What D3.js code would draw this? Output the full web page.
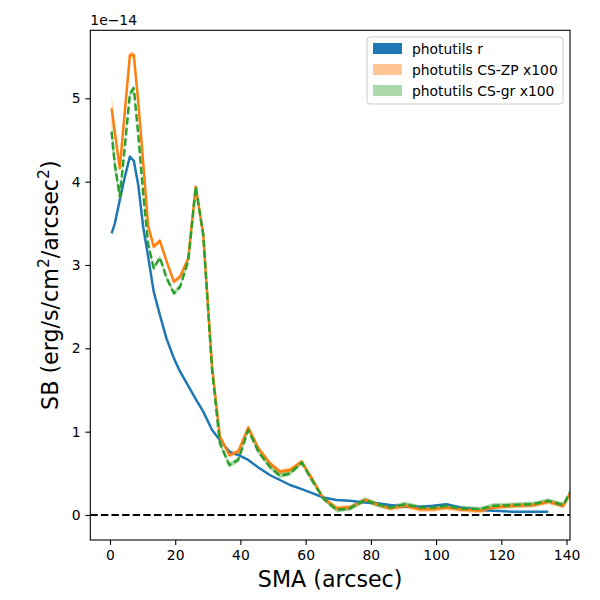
<!DOCTYPE html>
<html>
<head>
<meta charset="utf-8">
<script src="https://cdn.jsdelivr.net/npm/d3@7"></script>
<style>
  html, body { margin: 0; padding: 0; background: #fff; }
  svg { display: block; font-family: "DejaVu Sans", sans-serif; }
</style>
</head>
<body>
<div id="chart"></div>
<script>
// SMA grid (arcsec)
const sma = [0.5, 1.5, 3.0, 4.5, 6.1, 7.3, 8.7, 10.2, 11.7, 13.4, 15.3, 17.3, 19.6, 21.5, 24.0, 26.3, 28.6, 31.3, 33.7, 36.6,
             39.3, 42.4, 45.5, 49.0, 52.1, 55.2, 58.8, 62.2, 65.4, 69.5, 73.6, 78.2, 81.8, 85.9, 90.5, 95.0, 99.0, 103.2, 107.3, 113.5,
             117.5, 123.7, 129.8, 134.4, 139.0, 141.2];
// surface brightness, units of 1e-14
const sbR = [3.38, 3.50, 3.78, 4.05, 4.30, 4.25, 3.95, 3.45, 3.10, 2.68, 2.40, 2.12, 1.88, 1.72, 1.55, 1.39, 1.24, 1.02, 0.90, 0.76,
             0.72, 0.66, 0.57, 0.48, 0.42, 0.36, 0.31, 0.26, 0.21, 0.18, 0.17, 0.15, 0.14, 0.12, 0.10, 0.10, 0.11, 0.13, 0.09, 0.06,
             0.05, 0.04, 0.04, 0.04];
const sbZP = [4.88, 4.59, 4.16, 4.82, 5.52, 5.52, 4.94, 4.22, 3.47, 3.22, 3.29, 3.05, 2.80, 2.86, 3.08, 3.94, 3.36, 1.78, 0.94, 0.72,
              0.76, 1.05, 0.80, 0.62, 0.52, 0.54, 0.64, 0.42, 0.20, 0.08, 0.09, 0.18, 0.13, 0.08, 0.11, 0.07, 0.07, 0.09, 0.07, 0.05,
              0.09, 0.11, 0.12, 0.16, 0.11, 0.26];
const sbGR = [4.60, 4.20, 3.82, 4.40, 5.05, 5.12, 4.55, 3.85, 3.25, 2.96, 3.09, 2.85, 2.66, 2.74, 3.05, 3.94, 3.36, 1.74, 0.86, 0.60,
              0.66, 1.02, 0.76, 0.58, 0.47, 0.50, 0.63, 0.40, 0.20, 0.06, 0.08, 0.18, 0.13, 0.09, 0.13, 0.09, 0.09, 0.11, 0.08, 0.07,
              0.11, 0.12, 0.13, 0.17, 0.12, 0.28];
// uncertainty half-widths (1e-14)
const errZP = [0.16, 0.08, 0.05, 0.05, 0.04, 0.04, 0.04, 0.04, 0.03, 0.03, 0.03, 0.03, 0.03, 0.03, 0.03, 0.03, 0.03, 0.03, 0.03, 0.03,
               0.03, 0.03, 0.03, 0.03, 0.03, 0.03, 0.03, 0.03, 0.03, 0.03, 0.03, 0.03, 0.03, 0.03, 0.03, 0.03, 0.03, 0.03, 0.03, 0.03,
               0.03, 0.03, 0.03, 0.03, 0.03, 0.03];
const errGR = [0.18, 0.10, 0.06, 0.05, 0.04, 0.04, 0.04, 0.04, 0.03, 0.03, 0.03, 0.03, 0.03, 0.03, 0.03, 0.03, 0.03, 0.03, 0.03, 0.03,
               0.03, 0.03, 0.03, 0.03, 0.03, 0.03, 0.03, 0.03, 0.03, 0.03, 0.03, 0.03, 0.03, 0.03, 0.03, 0.03, 0.03, 0.03, 0.03, 0.03,
               0.03, 0.03, 0.03, 0.03, 0.03, 0.03];
const xTicks = [0, 20, 40, 60, 80, 100, 120, 140];
const yTicks = [0, 1, 2, 3, 4, 5];
const legendLabels = ["photutils r", "photutils CS-ZP x100", "photutils CS-gr x100"];

const W = 600, H = 600;
const mL = 90.3, mR = 570, mT = 30.3, mB = 540;

const svg = d3.select("#chart").append("svg").attr("width", W).attr("height", H);

const x = d3.scaleLinear().domain([-6.04, 141.06]).range([mL, mR]);
const y = d3.scaleLinear().domain([-0.30, 5.816]).range([mB, mT]);

const defs = svg.append("defs");
defs.append("clipPath").attr("id", "clip").append("rect")
  .attr("x", mL).attr("y", mT).attr("width", mR - mL).attr("height", mB - mT);

const plot = svg.append("g").attr("clip-path", "url(#clip)");

const toPts = (vals) => vals.map((v, i) => ({ x: sma[i], y: v }));
const line = d3.line().x(d => x(d.x)).y(d => y(d.y));
const area = d3.area().x(d => x(d.x)).y0(d => y(d.lo)).y1(d => y(d.hi));

// bands
plot.append("path")
  .datum(sbZP.map((v, i) => ({ x: sma[i], lo: v - errZP[i], hi: v + errZP[i] })))
  .attr("d", area).attr("fill", "#ff7f0e").attr("opacity", 0.4);
plot.append("path")
  .datum(sbGR.map((v, i) => ({ x: sma[i], lo: v - errGR[i], hi: v + errGR[i] })))
  .attr("d", area).attr("fill", "#2ca02c").attr("opacity", 0.4);

// lines
plot.append("path").datum(toPts(sbR)).attr("d", line)
  .attr("fill", "none").attr("stroke", "#1f77b4").attr("stroke-width", 2.5).attr("stroke-linejoin", "round");
plot.append("path").datum(toPts(sbZP)).attr("d", line)
  .attr("fill", "none").attr("stroke", "#ff7f0e").attr("stroke-width", 2.5).attr("stroke-linejoin", "round");
plot.append("path").datum(toPts(sbGR)).attr("d", line)
  .attr("fill", "none").attr("stroke", "#2ca02c").attr("stroke-width", 2.5)
  .attr("stroke-dasharray", "7.4,3.2").attr("stroke-linejoin", "round");

// zero line
plot.append("line")
  .attr("x1", mL).attr("x2", mR).attr("y1", y(0)).attr("y2", y(0))
  .attr("stroke", "#000").attr("stroke-width", 2).attr("stroke-dasharray", "7.4,3.2");

// axes
const xAxis = svg.append("g").attr("transform", `translate(0,${mB})`)
  .call(d3.axisBottom(x).tickValues(xTicks).tickFormat(d3.format("d")).tickSize(4.9).tickPadding(4.9));
const yAxis = svg.append("g").attr("transform", `translate(${mL},0)`)
  .call(d3.axisLeft(y).tickValues(yTicks).tickFormat(d3.format("d")).tickSize(4.9).tickPadding(4.9));
[xAxis, yAxis].forEach(a => {
  a.select(".domain").remove();
  a.selectAll(".tick line").attr("stroke", "#000").attr("stroke-width", 1.1);
  a.selectAll(".tick text").attr("font-size", 13.9).attr("fill", "#000")
    .attr("font-family", "DejaVu Sans, sans-serif");
});

// frame
svg.append("rect").attr("x", mL).attr("y", mT).attr("width", mR - mL).attr("height", mB - mT)
  .attr("fill", "none").attr("stroke", "#000").attr("stroke-width", 1.1);

// offset text
svg.append("text").attr("x", mL).attr("y", 25).attr("font-size", 13.9).text("1e\u221214");

// axis labels
svg.append("text").attr("x", (mL + mR) / 2).attr("y", 587).attr("text-anchor", "middle")
  .attr("font-size", 22.2).text("SMA (arcsec)");
const yl = svg.append("text").attr("transform", `translate(58,${(mT + mB) / 2}) rotate(-90)`)
  .attr("text-anchor", "middle").attr("font-size", 22.2);
yl.append("tspan").text("SB (erg/s/cm");
yl.append("tspan").attr("font-size", 15.5).attr("dy", -9).text("2");
yl.append("tspan").attr("dy", 9).text("/arcsec");
yl.append("tspan").attr("font-size", 15.5).attr("dy", -9).text("2");
yl.append("tspan").attr("dy", 9).text(")");

// legend
const lg = svg.append("g");
lg.append("rect").attr("x", 367).attr("y", 37).attr("width", 196).attr("height", 67).attr("rx", 3)
  .attr("fill", "#fff").attr("fill-opacity", 0.8).attr("stroke", "#cccccc").attr("stroke-width", 1);
const patchColors = ["#1f77b4", "rgba(255,127,14,0.45)", "rgba(44,160,44,0.4)"];
legendLabels.forEach((lab, i) => {
  const cy = 49 + i * 21;
  lg.append("rect").attr("x", 373).attr("y", cy - 6).attr("width", 29).attr("height", 11)
    .attr("fill", patchColors[i]);
  lg.append("text").attr("x", 412).attr("y", cy + 5).attr("font-size", 13.9).text(lab);
});
</script>
</body>
</html>
